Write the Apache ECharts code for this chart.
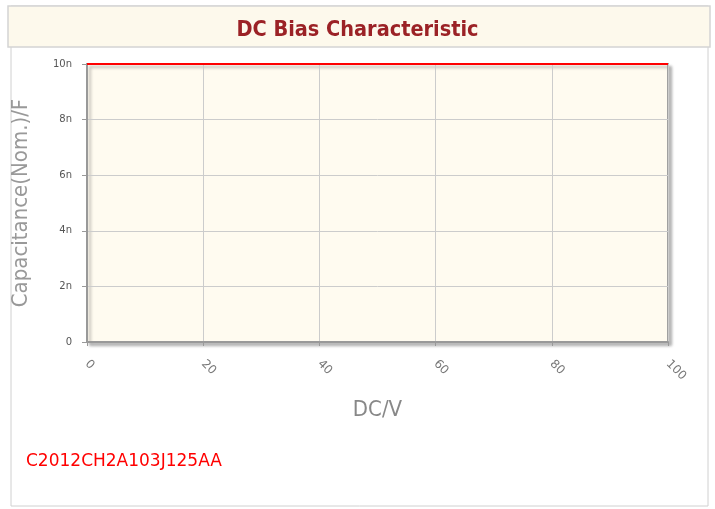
<!DOCTYPE html>
<html>
<head>
<meta charset="utf-8">
<script src="https://cdn.jsdelivr.net/npm/echarts@6/dist/echarts.min.js"></script>
<style>
  html, body { margin: 0; padding: 0; background: #fff; }
  #chart { width: 715px; height: 509px; }
</style>
</head>
<body>
<div id="chart"></div>
<script>
// DC bias curve (volts vs nominal capacitance in farads)
const voltages = [0, 100];
const capacitance = [10e-9, 10e-9];
const yTicks = [0, 2e-9, 4e-9, 6e-9, 8e-9, 10e-9];
const partNumber = 'C2012CH2A103J125AA';

const chart = echarts.init(document.getElementById('chart'));

const fmtN = v => (v === 0 ? '0' : Math.round(v * 1e9) + 'n');

const option = {
    animation: false,
    title: {
        text: 'DC Bias Characteristic',
        left: 'center',
        top: 14,
        textStyle: {
            color: '#9b2226',
            fontSize: 21.5,
            fontWeight: 'bold',
            fontFamily: 'DejaVu Sans Condensed'
        }
    },
    graphic: [
        {
            type: 'rect',
            z: -10,
            shape: { x: 11, y: 6, width: 697, height: 500 },
            style: { fill: '#fff', stroke: '#d0d0d0', lineWidth: 1 }
        },
        {
            type: 'rect',
            z: -9,
            shape: { x: 8, y: 6, width: 702, height: 41 },
            style: { fill: '#fdf9ec', stroke: '#d4d4d4', lineWidth: 1.5 }
        },
        {
            type: 'text',
            left: 26,
            top: 453,
            style: {
                text: partNumber,
                fill: '#ff0000',
                fontSize: 17,
                fontFamily: 'DejaVu Sans'
            }
        }
    ],
    grid: {
        left: 87,
        right: 715 - 668,
        top: 64,
        bottom: 509 - 342,
        outerBoundsMode: 'none',
        containLabel: false,
        show: true,
        backgroundColor: '#fffbf0',
        borderColor: '#a0a0a0',
        borderWidth: 2,
        shadowColor: 'rgba(0,0,0,0.25)',
        shadowBlur: 3,
        shadowOffsetX: 3,
        shadowOffsetY: 3
    },
    xAxis: {
        type: 'value',
        min: 0,
        max: 100,
        interval: 20,
        name: 'DC/V',
        nameLocation: 'middle',
        nameGap: 57,
        nameTextStyle: { color: '#888', fontSize: 22, fontFamily: 'DejaVu Sans Condensed' },
        axisLine: { show: true, lineStyle: { color: '#999', width: 2 } },
        axisTick: { show: true, length: 4, lineStyle: { color: '#999' } },
        axisLabel: {
            rotate: -45,
            color: '#777',
            fontSize: 12,
            margin: 20,
            fontFamily: 'DejaVu Sans'
        },
        splitLine: { show: true, lineStyle: { color: '#cccccc', width: 1 } }
    },
    yAxis: {
        type: 'value',
        min: 0,
        max: 10e-9,
        interval: 2e-9,
        name: 'Capacitance(Nom.)/F',
        nameLocation: 'middle',
        nameGap: 55,
        nameTextStyle: { color: '#999', fontSize: 22, fontFamily: 'DejaVu Sans Condensed' },
        axisLine: { show: true, lineStyle: { color: '#999', width: 2 } },
        axisTick: { show: true, length: 5, lineStyle: { color: '#999' } },
        axisLabel: {
            color: '#555',
            fontSize: 10,
            margin: 15,
            fontFamily: 'DejaVu Sans',
            formatter: v => yTicks.includes(v) || Math.abs(v % 2e-9) < 1e-15 ? fmtN(v) : ''
        },
        splitLine: { show: true, lineStyle: { color: '#cccccc', width: 1 } }
    },
    series: [
        {
            type: 'line',
            data: voltages.map((v, i) => [v, capacitance[i]]),
            showSymbol: false,
            lineStyle: { color: '#ff0000', width: 2 },
            z: 5
        }
    ]
};

chart.setOption(option);
</script>
</body>
</html>
